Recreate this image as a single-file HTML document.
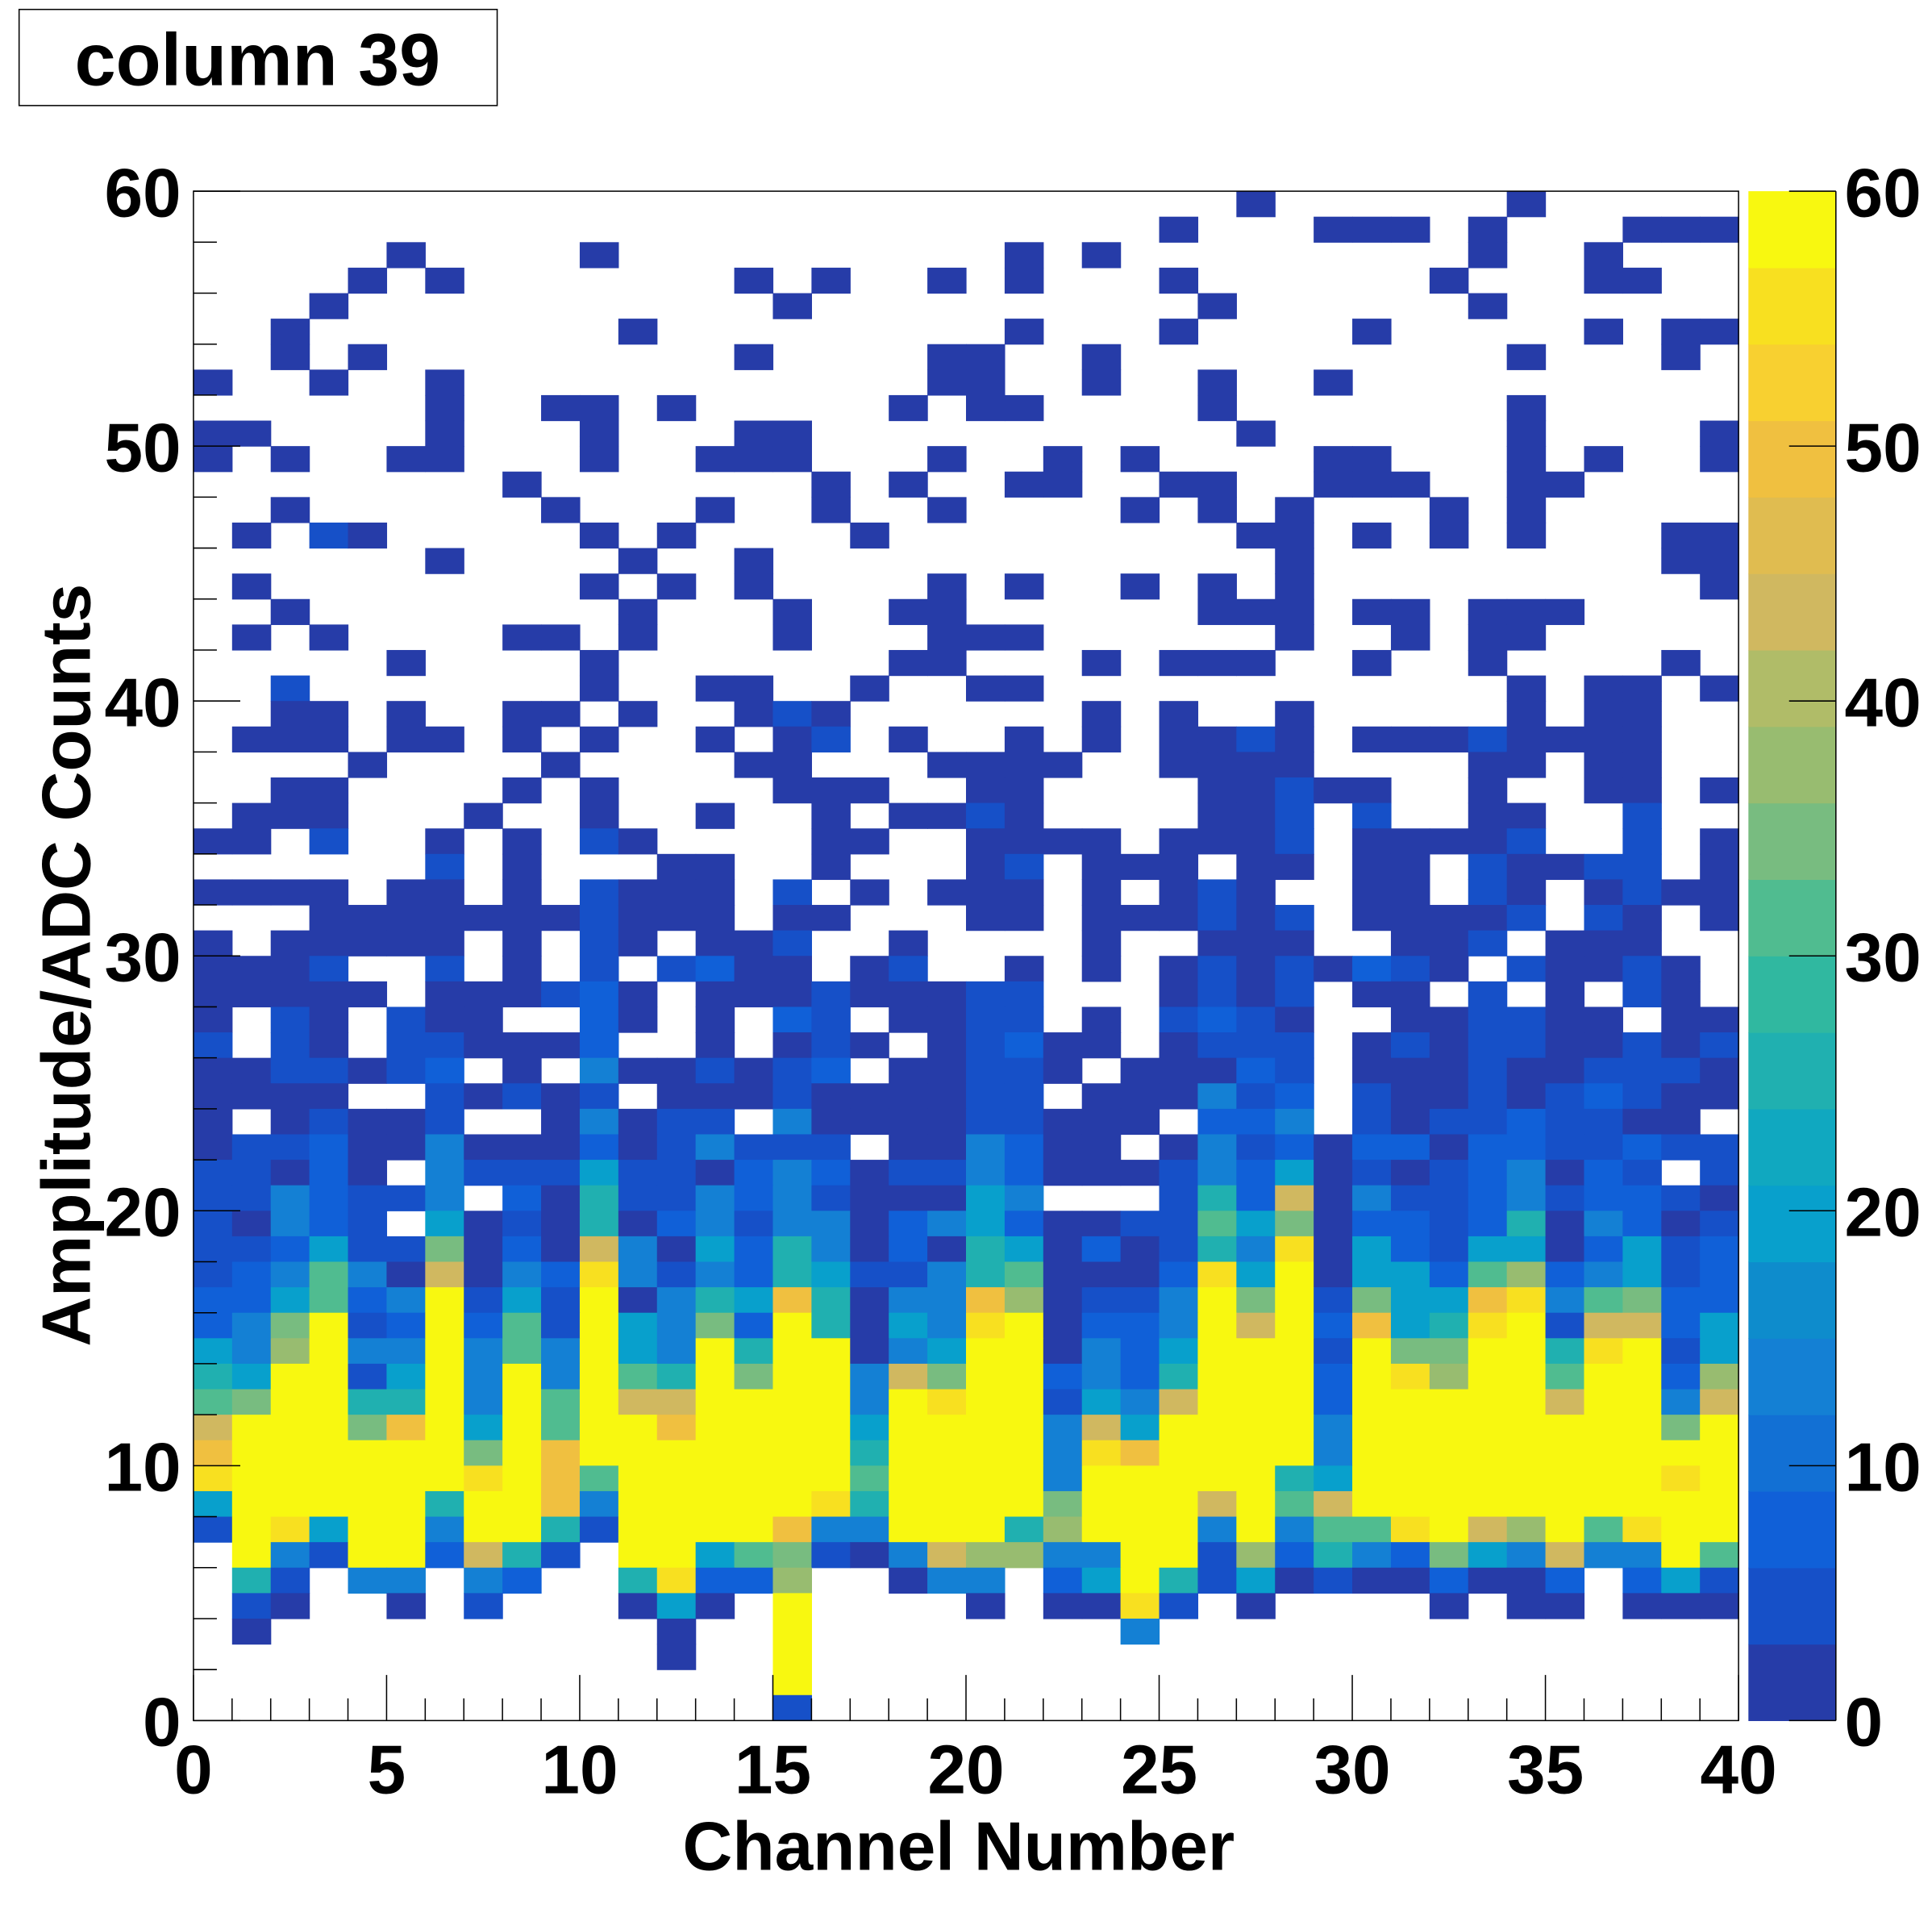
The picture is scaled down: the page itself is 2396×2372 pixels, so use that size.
<!DOCTYPE html>
<html><head><meta charset="utf-8">
<style>
html,body{margin:0;padding:0;background:#fff;}
svg{display:block;}
text{font-family:"Liberation Sans",Arial,sans-serif;font-weight:bold;fill:#000;}
</style></head>
<body>
<svg id="chart" xmlns="http://www.w3.org/2000/svg" width="2396" height="2372" viewBox="0 0 1568 1552">
  <rect x="0" y="0" width="1568" height="1552" fill="#fff"/>
  <g>
    <rect x="15.5" y="7.5" width="388" height="78" fill="#fff" stroke="#000" stroke-width="1"/>
    <text x="209" y="69" font-size="60" text-anchor="middle">column 39</text>
  </g>
  <g id="cells"></g>
  <g id="axes"></g>
  <g id="cbar"></g>
  <text x="778" y="1517" font-size="56" text-anchor="middle">Channel Number</text>
  <text transform="translate(73,783) rotate(-90)" font-size="56" text-anchor="middle">Amplitude/ADC Counts</text>
</svg>
<script>
// ---- data ----
// rows listed from top (amplitude bin 59) to bottom (bin 0); 40 channel columns each.
// '.' = empty bin, letters = count level (see levelCounts)
const rowStrings = [
"..........|..........|.......a..|....a.....",
"..........|..........|.....a...a|aa.a...aaa",
".....a....|a.........|.a.a......|...a..a...",
"....a.a...|....a.a..a|.a...a....|..a...aa..",
"...a......|.....a....|......a...|...a......",
"..a.......|.a........|.a...a....|a.....a.aa",
"..a.a.....|....a....a|a..a......|....a...a.",
"a..a..a...|.........a|a..a..a..a|..........",
"......a..a|a.a.....a.|aa....a...|....a.....",
"aa....a...|a...aa....|.......a..|....a....a",
"a.a..aa...|a..aaa...a|..a.a....a|a...a.a..a",
"........a.|......a.a.|.aa..aa..a|aa..aa....",
"..a......a|...a..a..a|....a.a.a.|..a.a.....",
".a.ba.....|a.a....a..|.......aa.|a.a.a...aa",
"......a...|.a..a.....|........a.|........aa",
".a........|a.a.a....a|.a..a.a.a.|.........a",
"..a.......|.a...a..aa|......aaa.|aa.aaa....",
".a.a....aa|.a...a...a|aa......a.|.a.aa.....",
".....a....|a.......aa|...a.aaa..|a..a....a.",
"..b.......|a..aa..a..|aa........|....a.aa.a",
"..aa.a..aa|.a..aba...|...a.a..a.|....a.aa..",
".aaa.aa.a.|a..a.ab.a.|.a.a.aaba.|aaabaaaa..",
"....a....a|....aa...a|aaa..aaaa.|...aa.aa..",
"..aa....a.|a....aaa..|aa....aaba|a..a..aa.a",
".aaa...a..|a..a..a.aa|ba....aab.|b..aa..b..",
"aa.b..a.a.|ba....aa..|aaaa.aaab.|aaaab..b.a",
"......b.a.|..aa..a...|ab.aaa.aa.|aa.baabb.a",
"aaaa.aa.a.|baaa.b.a.a|aa.a.aba..|aa.ba.abaa",
"...aaaaaaa|baaa.aa...|aa.aaabab.|aaaab.ba.a",
"a.aaaaa.a.|ba.aab..a.|...a..aaa.|.aab.aaa..",
"aaab..b.a.|b.bcaa.ab.|.a.a.ababa|cba.baaba.",
"aaaaa.aaab|ca.aaabaaa|bb...abab.|aa.b.a.ba.",
"a.ba.baa..|ca.a.cb.aa|bb.a.bcba.|.aabbaa.aa",
"b.ba.bbaaa|c..a.aba.a|bcaa.abbb.|ababbaabab",
"aabbabc.a.|maababc.aa|bba.aaacb.|aaabaabbba",
"aaaa..baba|b.aaabaaaa|bb.aaambc.|baababcbaa",
"a.abaab..a|mabb.maaaa|bbaaa.ccm.|babbcbbaa.",
"abbcaamaaa|cabmbbb.aa|mcaa.ambca|ccaccbbcbb",
"bbaca.mbbb|dbbacmcabb|mcaaabmcda|babcmacb.b",
"bbmcbbm.ca|tbbmcmbaaa|dm...btcka|mbbcmbccba",
"bamcb.daba|tacmbmmacm|dcaabbedfa|ccbctamcab",
"bbcdbbfaca|kmadctmaca|tdacabtmpa|dcbddacdbc",
"bcmemakamc|pmbmctdbbm|teaaacpdya|ddcegcmdbc",
"ccdecmybdb|yamtdotamm|ogabbmyfyb|fddopmefcc",
"cmfybcyceb|ydmfcytadm|pyaccmykyc|odtpybkkcd",
"dmgymmymem|ydmytyyamd|yyamcdyyyb|yffyytpybd",
"tdyybdymym|yetyfyymkf|yycmctyyyc|ypgyyeyycg",
"efyyttymye|ykkyyyymyp|yybdmkyyyc|yyyyykyymk",
"kyyyfoydye|yyoyyyydyy|yymkdyyyym|yyyyyyyyfy",
"oyyyyyyfyo|yyyyyyytyy|yympoyyyym|yyyyyyyyyy",
"pyyyyyypyo|eyyyyyyeyy|yymyyyyytd|yyyyyyyypy",
"dyyyyytyyo|myyyyyptyy|yyfyyykyek|yyyyyyyyyy",
"bypdyymyyt|byyyyommyy|ytgyyymyme|epykgyepyy",
".ymbyycktb|.yydefbamk|ggmmyybgct|mcfdmkmmye",
".tb.mm.mc.|.tpccg..am|m.cdytbdab|aacaac.cdb",
".ba..a.b..|.ada.y....|a.aapb.a..|..a.aa.aaa",
".a........|..a..y....|....m.....|..........",
"..........|..a..y....|..........|..........",
"..........|.....y....|..........|..........",
"..........|.....b....|..........|.........."
];
const levelCounts = {a:1.5,b:4.5,c:7.5,m:13.5,d:19.5,t:25.5,e:31.5,f:34.5,g:37.5,k:43.5,o:49.5,p:55.5,y:59.5};
const xTickValues = [0,5,10,15,20,25,30,35,40];
const xTickLabels = ["0","5","10","15","20","25","30","35","40"];
const yTickValues = [0,10,20,30,40,50,60];
const yTickLabels = ["0","10","20","30","40","50","60"];
const zTickValues = [0,10,20,30,40,50,60];
const zTickLabels = ["0","10","20","30","40","50","60"];
const paletteColors = ["#263ca8","#1650c8","#1060d8","#1270d4","#1480d4","#0e8ccc","#08a0cc","#10a8c0","#20b0b0","#30b8a0","#50bc90","#78bc80","#98bc70","#b0bc68","#d0b860","#e0bc50","#f0c040","#f8d030","#f8e020","#f8f810"];

// ---- layout ----
const NS = "http://www.w3.org/2000/svg";
const PX0 = 157, PX1 = 1411, PY0 = 155, PY1 = 1396;
const xMin = 0, xMax = 40, yMin = 0, yMax = 60, zMin = 0, zMax = 60;
const CB0 = 1419, CB1 = 1490;
function xScale(v){ return PX0 + (v - xMin) / (xMax - xMin) * (PX1 - PX0); }
function yScale(v){ return PY1 - (v - yMin) / (yMax - yMin) * (PY1 - PY0); }
function zScale(v){ return PY1 - (v - zMin) / (zMax - zMin) * (PY1 - PY0); }
function colorFor(v){
  let i = Math.floor((v - zMin) / (zMax - zMin) * paletteColors.length);
  i = Math.max(0, Math.min(paletteColors.length - 1, i));
  return paletteColors[i];
}
function mk(tag, attrs, parent){
  const el = document.createElementNS(NS, tag);
  for (const k in attrs) el.setAttribute(k, attrs[k]);
  parent.appendChild(el);
  return el;
}

const rows = rowStrings.map(s => s.replace(/\|/g, ""));
const nRows = rows.length;
const cellsG = document.getElementById("cells");
rows.forEach((row, ri) => {
  const bin = nRows - 1 - ri;
  for (let c = 0; c < row.length; c++) {
    const ch = row[c];
    if (!(ch in levelCounts)) continue;
    const v = levelCounts[ch];
    const x0 = xScale(c), x1 = xScale(c + 1);
    const y0 = yScale(bin + 1), y1 = yScale(bin);
    const r = mk("rect", {x: x0, y: y0, width: (x1 - x0 + 0.4), height: (y1 - y0 + 0.4), fill: colorFor(v)}, cellsG);
    
    
  }
});

// axes
const ax = document.getElementById("axes");
const frame = mk("rect", {x: PX0, y: PY0, width: PX1 - PX0, height: PY1 - PY0, fill: "none", stroke: "#000", "stroke-width": 1}, ax);


for (let v = xMin; v <= xMax; v += 1) {
  const major = xTickValues.includes(v);
  const t = mk("line", {x1: xScale(v), x2: xScale(v), y1: PY1, y2: PY1 - (major ? 37 : 18), stroke: "#000", "stroke-width": 1}, ax);
  
  
}
for (let v = yMin; v <= yMax; v += 2) {
  const major = yTickValues.includes(v);
  const t = mk("line", {x1: PX0, x2: PX0 + (major ? 38 : 19), y1: yScale(v), y2: yScale(v), stroke: "#000", "stroke-width": 1}, ax);
  
  
}
xTickValues.forEach((v, i) => {
  const t = mk("text", {x: xScale(v), y: 1455, "font-size": 56, "text-anchor": "middle"}, ax);
  t.textContent = xTickLabels[i];
  
  
});
yTickValues.forEach((v, i) => {
  const t = mk("text", {x: 147, y: yScale(v) + 20.5, "font-size": 56, "text-anchor": "end"}, ax);
  t.textContent = yTickLabels[i];
  
  
});

// color bar
const cb = document.getElementById("cbar");
const nSteps = paletteColors.length;
for (let i = 0; i < nSteps; i++) {
  const v0 = zMin + i * (zMax - zMin) / nSteps, v1 = zMin + (i + 1) * (zMax - zMin) / nSteps;
  const r = mk("rect", {x: CB0, y: zScale(v1), width: CB1 - CB0, height: zScale(v0) - zScale(v1) + 0.4, fill: paletteColors[i]}, cb);
  
  
}
const cbl = mk("line", {x1: CB1, x2: CB1, y1: PY0, y2: PY1, stroke: "#000", "stroke-width": 1}, cb);


zTickValues.forEach((v, i) => {
  const t = mk("line", {x1: CB1 - 38, x2: CB1, y1: zScale(v), y2: zScale(v), stroke: "#000", "stroke-width": 1}, cb);
  
  
  const l = mk("text", {x: 1497, y: zScale(v) + 20.5, "font-size": 56, "text-anchor": "start"}, cb);
  l.textContent = zTickLabels[i];
  
  
});
</script>
</body></html>
